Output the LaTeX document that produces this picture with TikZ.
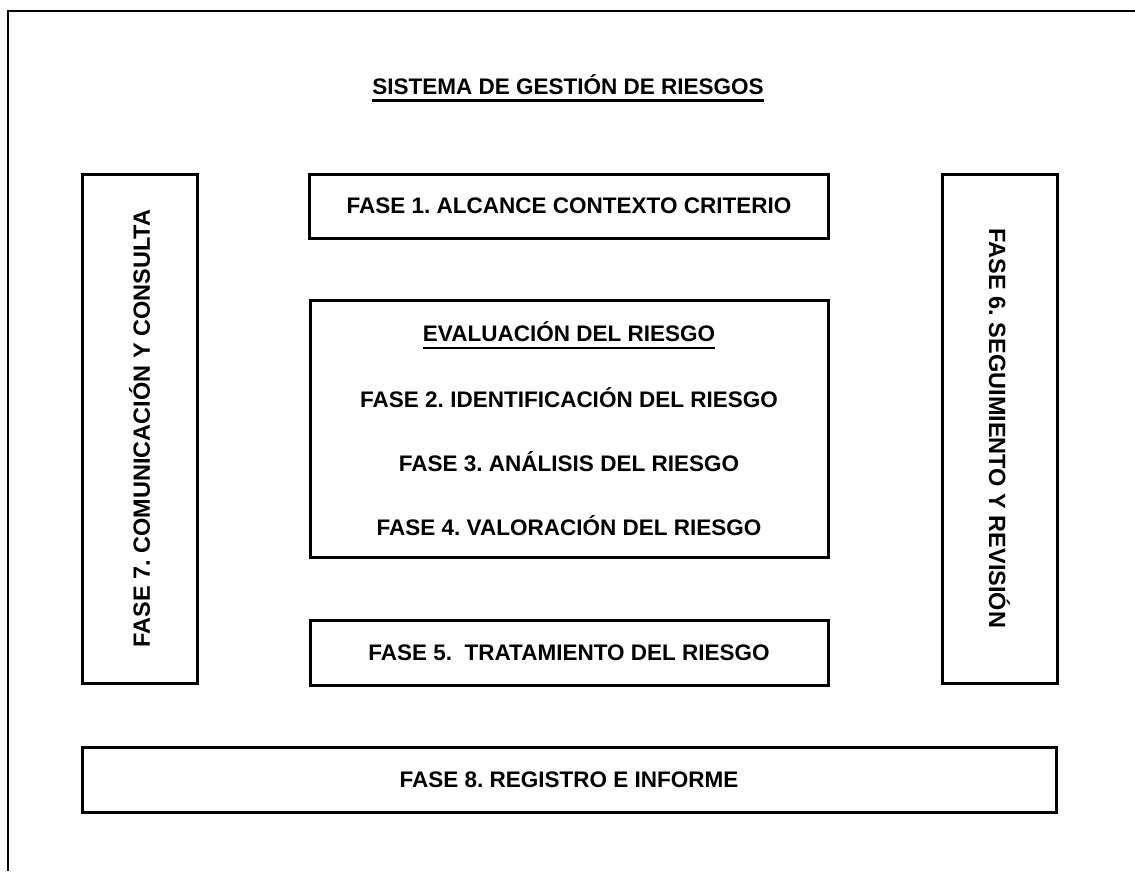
\documentclass[tikz,border=0pt]{standalone}
\usepackage{fontspec}
\setmainfont{Liberation Sans}
\usetikzlibrary{positioning}
\frenchspacing
\newcommand{\ulbox}[1]{\leavevmode\vtop{\hbox{#1}\kern5pt\hrule height 2.5pt}}

\begin{document}
\begin{tikzpicture}[x=1pt, y=-1pt, font=\fontsize{22.5}{27}\selectfont\bfseries,
	   b/.style={draw, line width=3pt, outer sep=0pt, inner sep=0pt, align=center},
	   s/.style={b, minimum width=115pt, minimum height=509pt, font=\fontsize{23.5}{27}\selectfont\bfseries}]
	  \useasboundingbox (0,0) rectangle (1135,871);
	  \draw[line width=2pt] (8,871) -- (8,11) -- (1135,11);
	  \node (T) at (568,88) {\ulbox{SISTEMA DE GESTIÓN DE RIESGOS}};
	  \node[b, minimum width=518pt, minimum height=257pt] (E) at (569,428.5)
	    {\ulbox{EVALUACIÓN DEL RIESGO}\\[37pt]
	     FASE 2. IDENTIFICACIÓN DEL RIESGO\\[37pt]
	     FASE 3. ANÁLISIS DEL RIESGO\\[37pt]
	     FASE 4. VALORACIÓN DEL RIESGO};
	  \node[b, minimum width=519pt, minimum height=64pt, above=62pt of E] (F1) {FASE 1. ALCANCE CONTEXTO CRITERIO};
	  \node[b, minimum width=518pt, minimum height=65pt, below=63pt of E] (F5) {FASE 5.\ \ TRATAMIENTO DEL RIESGO};
	  \node[s, left=113pt of E] (F7) {\rotatebox{90}{FASE 7. COMUNICACIÓN Y CONSULTA}};
	  \node[s, right=114pt of E] (F6) {\rotatebox{-90}{FASE 6. SEGUIMIENTO Y REVISIÓN}};
	  \node[b, minimum width=974pt, minimum height=65pt, below=62pt of F5] (F8) {FASE 8. REGISTRO E INFORME};
	\end{tikzpicture}
\end{document}
